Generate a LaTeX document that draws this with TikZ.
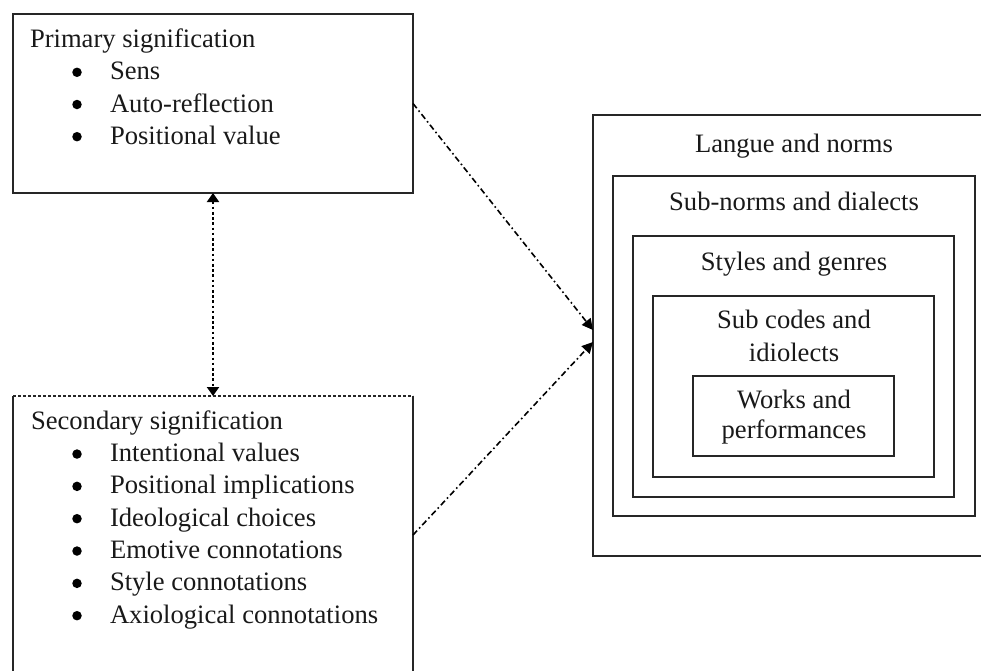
\documentclass[tikz,border=0pt]{standalone}
\usepackage{fontspec}
\setmainfont{Liberation Serif}
\usetikzlibrary{arrows.meta,calc}

\begin{document}
\begin{tikzpicture}[x=1pt,y=-1pt,
  frame/.style={rectangle, draw=black!85, line width=1.3pt, inner sep=0pt, outer sep=0pt},
  txt/.style={font=\fontsize{26.6}{32}\selectfont, inner sep=0pt, outer sep=0pt, text=black!90},
  dot/.style={circle, fill=black, draw=none, minimum size=9.5pt, inner sep=0pt},
  vlink/.style={line width=2pt, dash pattern=on 2.6pt off 2.6pt,
    {Triangle[length=9pt,width=12pt]}-{Triangle[length=9pt,width=12pt]}},
  dlink/.style={line width=1.6pt, dash pattern=on 6pt off 3pt on 1.6pt off 3pt,
    -{Triangle[length=11pt,width=11pt]}},
]
\useasboundingbox (0,0) rectangle (981,670);

% left-hand boxes
\node[frame, minimum width=400pt, minimum height=179pt] (prim) at (213,103.5) {};
\node[rectangle, draw=none, inner sep=0pt, outer sep=0pt,
      minimum width=400pt, minimum height=278pt] (sec) at (213,535) {};
\draw[black!85, line width=1.3pt] (sec.north west) -- (sec.south west) -- (sec.south east) -- (sec.north east);
\draw[black!85, line width=1.3pt, dash pattern=on 3pt off 2pt] (sec.north west) -- (sec.north east);

% Primary signification
\node[txt, anchor=base west] (ptitle) at (30,47.7) {Primary signification};
\foreach \t [count=\i] in {Sens, Auto-reflection, Positional value} {
  \node[dot] (pb\i) at (77,{47.7+32.2*\i-7.6}) {};
  \node[txt, anchor=base west] (pi\i) at (110,{47.7+32.2*\i}) {\t};
}

% Secondary signification
\node[txt, anchor=base west] (stitle) at (31,429.3) {Secondary signification};
\foreach \t [count=\i] in {Intentional values, Positional implications, Ideological choices,
    Emotive connotations, Style connotations, Axiological connotations} {
  \node[dot] (sb\i) at (77,{429.3+32.33*\i-7.6}) {};
  \node[txt, anchor=base west] (si\i) at (110,{429.3+32.33*\i}) {\t};
}

% nested boxes on the right
\node[frame, minimum width=417pt, minimum height=441pt] (outer) at (801.5,335.5) {};
\node[frame, minimum width=362pt, minimum height=340pt] (b2) at (794,346) {};
\node[frame, minimum width=321pt, minimum height=261pt] (b3) at (793.5,366.5) {};
\node[frame, minimum width=281pt, minimum height=181pt] (b4) at (793.5,386.5) {};
\node[frame, minimum width=201pt, minimum height=80pt] (b5) at (793.5,416) {};

\node[txt, anchor=base] (t1) at (794,152) {Langue and norms};
\node[txt, anchor=base] (t2) at (794,210) {Sub-norms and dialects};
\node[txt, anchor=base] (t3) at (794,270) {Styles and genres};
\node[txt, anchor=base] (t4a) at (794,328) {Sub codes and};
\node[txt, anchor=base] (t4b) at (794,361) {idiolects};
\node[txt, anchor=base] (t5a) at (794,408) {Works and};
\node[txt, anchor=base] (t5b) at (794,438) {performances};

% connectors
\coordinate (inA) at ($(outer.west)+(0,-5.5)$);
\coordinate (inB) at ($(outer.west)+(0,6.5)$);
\draw[vlink] (prim.south) -- (sec.north);
\draw[dlink] (prim.east) -- (inA);
\draw[dlink] (sec.east) -- (inB);
\end{tikzpicture}
\end{document}
